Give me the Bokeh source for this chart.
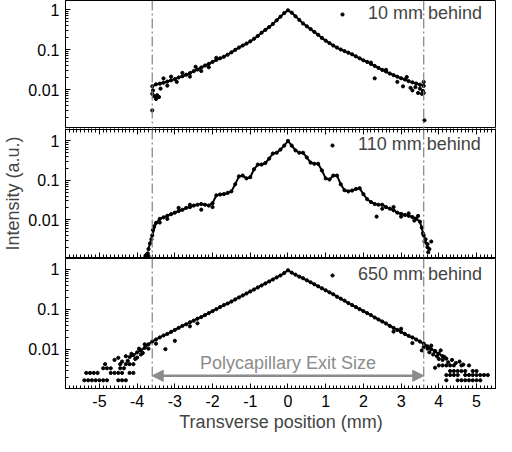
from bokeh.plotting import figure
from bokeh.layouts import column
from bokeh.models import (LinearAxis, LogAxis, SingleIntervalTicker, FixedTicker, Span, Arrow,
                          NormalHead, Label, Legend, LegendItem, Range1d)
from bokeh.embed import file_html
from bokeh.resources import INLINE

# ---------------- data ----------------
# 10 mm behind
x_10 = [-3.6, -3.5, -3.4, -3.3, -3.2, -3.1, -3.0, -2.9, -2.8, -2.7, -2.6, -2.5, -2.4, -2.3, -2.2, -2.1,
        -2.0, -1.9, -1.8, -1.7, -1.6, -1.5, -1.4, -1.3, -1.2, -1.1, -1.0, -0.9, -0.8, -0.7, -0.6, -0.5,
        -0.4, -0.3, -0.2, -0.1, 0.0, 0.1, 0.2, 0.3, 0.4, 0.5, 0.6, 0.7, 0.8, 0.9, 1.0, 1.1, 1.2, 1.3,
        1.4, 1.5, 1.6, 1.7, 1.8, 1.9, 2.0, 2.1, 2.2, 2.3, 2.4, 2.5, 2.6, 2.7, 2.8, 2.9, 3.0, 3.1, 3.2,
        3.3, 3.4, 3.5, 3.6]
i_10 = [0.0120, 0.0135, 0.0140, 0.0148, 0.0158, 0.0170, 0.0182, 0.0200, 0.0214, 0.0234, 0.0257, 0.0288,
        0.0316, 0.0355, 0.0398, 0.0437, 0.0490, 0.0550, 0.0603, 0.0661, 0.0741, 0.0851, 0.0977, 0.112,
        0.126, 0.141, 0.160, 0.186, 0.219, 0.263, 0.309, 0.363, 0.437, 0.537, 0.661, 0.813, 0.955,
        0.832, 0.676, 0.550, 0.447, 0.380, 0.324, 0.275, 0.234, 0.195, 0.166, 0.145, 0.126, 0.112, 0.100,
        0.0912, 0.0832, 0.0759, 0.0676, 0.0603, 0.0537, 0.0490, 0.0437, 0.0389, 0.0347, 0.0309, 0.0282,
        0.0251, 0.0229, 0.0209, 0.0191, 0.0178, 0.0162, 0.0151, 0.0141, 0.0132, 0.0123]
x_10_scatter = [-3.6, -3.6, -3.58, -3.55, -3.5, -3.47, -3.42, -3.38, -3.3, -3.2, -3.1, -2.95, -2.8, -2.6,
                -2.45, -2.3, -2.1, -1.9, 2.2, 2.3, 2.6, 2.9, 3.05, 3.15, 3.25, 3.3, 3.38, 3.45, 3.5, 3.55,
                3.58, 3.6, 3.6, 3.62]
i_10_scatter = [0.003, 0.0078, 0.0095, 0.0068, 0.0058, 0.0072, 0.0065, 0.0105, 0.019, 0.0125, 0.021,
                0.0155, 0.026, 0.021, 0.037, 0.029, 0.036, 0.062, 0.047, 0.019, 0.031, 0.0155, 0.012,
                0.0205, 0.011, 0.0095, 0.0115, 0.0082, 0.0105, 0.0078, 0.0092, 0.0082, 0.0155, 0.0017]

# 110 mm behind
x_110 = [-3.7, -3.6, -3.5, -3.4, -3.3, -3.2, -3.1, -3.0, -2.9, -2.8, -2.7, -2.6, -2.5, -2.4, -2.3, -2.2,
         -2.1, -2.0, -1.9, -1.8, -1.7, -1.6, -1.5, -1.4, -1.3, -1.2, -1.1, -1.0, -0.9, -0.8, -0.7, -0.6,
         -0.5, -0.4, -0.3, -0.2, -0.1, 0.0, 0.1, 0.2, 0.3, 0.4, 0.5, 0.6, 0.7, 0.8, 0.9, 1.0, 1.1, 1.2,
         1.3, 1.4, 1.5, 1.6, 1.7, 1.8, 1.9, 2.0, 2.1, 2.2, 2.3, 2.4, 2.5, 2.6, 2.7, 2.8, 2.9, 3.0, 3.1,
         3.2, 3.3, 3.4, 3.5, 3.6, 3.7]
i_110 = [0.0018, 0.0040, 0.0083, 0.0105, 0.0115, 0.0126, 0.0138, 0.0151, 0.0166, 0.0178, 0.0200, 0.0209,
         0.0229, 0.0240, 0.0251, 0.0240, 0.0229, 0.0263, 0.0417, 0.0437, 0.0447, 0.0479, 0.0525, 0.0794,
         0.126, 0.132, 0.112, 0.120, 0.191, 0.251, 0.251, 0.275, 0.355, 0.479, 0.501, 0.603, 0.759, 1.0,
         0.759, 0.575, 0.501, 0.501, 0.380, 0.282, 0.263, 0.263, 0.178, 0.112, 0.105, 0.132, 0.132,
         0.0794, 0.0562, 0.0525, 0.0550, 0.0603, 0.0631, 0.0447, 0.0331, 0.0282, 0.0251, 0.0240, 0.0240,
         0.0209, 0.0191, 0.0174, 0.0151, 0.0141, 0.0132, 0.0126, 0.0117, 0.0107, 0.0089, 0.0040, 0.0020]
x_110_scatter = [-3.78, -3.75, -3.72, -3.7, -3.66, -3.62, -3.58, -3.55, -3.4, -3.2, -2.9, -2.6, -2.3, -2.0,
                 2.35, 2.5, 2.8, 3.0, 3.2, 3.35, 3.45, 3.55, 3.58, 3.62, 3.65, 3.7, 3.72, 3.75, 3.8]
i_110_scatter = [0.0012, 0.0013, 0.0014, 0.0012, 0.0025, 0.0032, 0.0055, 0.0068, 0.0085, 0.0105, 0.020,
                 0.024, 0.018, 0.021, 0.012, 0.019, 0.021, 0.012, 0.0145, 0.0095, 0.0125, 0.0063, 0.0045,
                 0.0028, 0.0032, 0.0024, 0.0015, 0.0018, 0.0028]

# 650 mm behind
x_650 = [-4.2, -4.1, -4.0, -3.9, -3.8, -3.7, -3.6, -3.5, -3.4, -3.3, -3.2, -3.1, -3.0, -2.9, -2.8, -2.7,
         -2.6, -2.5, -2.4, -2.3, -2.2, -2.1, -2.0, -1.9, -1.8, -1.7, -1.6, -1.5, -1.4, -1.3, -1.2, -1.1,
         -1.0, -0.9, -0.8, -0.7, -0.6, -0.5, -0.4, -0.3, -0.2, -0.1, 0.0, 0.1, 0.2, 0.3, 0.4, 0.5, 0.6,
         0.7, 0.8, 0.9, 1.0, 1.1, 1.2, 1.3, 1.4, 1.5, 1.6, 1.7, 1.8, 1.9, 2.0, 2.1, 2.2, 2.3, 2.4, 2.5,
         2.6, 2.7, 2.8, 2.9, 3.0, 3.1, 3.2, 3.3, 3.4, 3.5, 3.6, 3.7, 3.8, 3.9, 4.0, 4.1, 4.2]
i_650 = [0.0065, 0.0072, 0.0085, 0.0095, 0.0110, 0.0135, 0.0158, 0.0178, 0.0200, 0.0224, 0.0245, 0.0275,
         0.0309, 0.0347, 0.0389, 0.0427, 0.0479, 0.0525, 0.0589, 0.0646, 0.0724, 0.0813, 0.0912, 0.102,
         0.115, 0.129, 0.141, 0.158, 0.178, 0.200, 0.224, 0.251, 0.282, 0.316, 0.355, 0.398, 0.447, 0.501,
         0.562, 0.631, 0.708, 0.813, 0.955, 0.832, 0.741, 0.661, 0.603, 0.537, 0.479, 0.427, 0.380, 0.339,
         0.302, 0.269, 0.240, 0.209, 0.186, 0.166, 0.145, 0.129, 0.115, 0.102, 0.0912, 0.0813, 0.0724,
         0.0631, 0.0562, 0.0501, 0.0447, 0.0389, 0.0347, 0.0309, 0.0275, 0.0245, 0.0219, 0.0200, 0.0178,
         0.0158, 0.0141, 0.0120, 0.0102, 0.0089, 0.0079, 0.0068, 0.0059]
x_650_scatter = [-5.4, -5.3, -5.2, -5.1, -5.0, -4.9, -4.8, -4.5, -4.4, -4.3,
                 -5.35, -5.25, -5.15, -5.05, -4.7, -4.6, -4.5, -4.4, -4.2, -4.1,
                 -4.9, -4.8, -4.7, -4.45, -4.35,
                 -4.85, -4.45, -4.3, -4.2, -4.1,
                 -4.6, -4.5, -4.4, -4.3, -4.25, -4.15, -4.05, -4.0, -3.95, -3.9, -3.85, -3.8, -3.7, -3.5,
                 -3.25, -3.0, -2.6, -2.4,
                 4.2, 4.5, 4.6, 4.7, 4.8, 4.9, 5.0, 5.1,
                 4.2, 4.3, 4.4, 4.5, 4.7, 4.8, 4.9, 5.0, 5.1, 5.2, 5.3,
                 4.3, 4.4, 4.5, 4.6, 4.7, 4.9, 5.0,
                 4.0, 4.1, 4.2, 4.3, 4.4, 4.6, 4.8,
                 3.55, 3.6, 3.7, 3.75, 3.8, 3.85, 3.9, 3.9, 3.95, 4.0, 4.05, 4.1, 4.15, 4.25, 4.35, 4.45,
                 4.55, 4.65, 3.3, 3.0, 2.8]
i_650_scatter = [0.0017, 0.0017, 0.0017, 0.0017, 0.0017, 0.0017, 0.0017, 0.0017, 0.0017, 0.0017,
                 0.0026, 0.0026, 0.0026, 0.0026, 0.0026, 0.0026, 0.0026, 0.0026, 0.0026, 0.0026,
                 0.0034, 0.0034, 0.0034, 0.0034, 0.0034,
                 0.0043, 0.0043, 0.0043, 0.0043, 0.0043,
                 0.0055, 0.0062, 0.0050, 0.0068, 0.0052, 0.0078, 0.0058, 0.0063, 0.0105, 0.0075, 0.0082,
                 0.0135, 0.0105, 0.0140, 0.0102, 0.0165, 0.038, 0.045,
                 0.0017, 0.0017, 0.0017, 0.0017, 0.0017, 0.0017, 0.0017, 0.0017,
                 0.0023, 0.0023, 0.0023, 0.0023, 0.0023, 0.0023, 0.0023, 0.0023, 0.0023, 0.0023, 0.0023,
                 0.0029, 0.0029, 0.0029, 0.0029, 0.0029, 0.0029, 0.0029,
                 0.0040, 0.0040, 0.0040, 0.0040, 0.0040, 0.0040, 0.0040,
                 0.0095, 0.0115, 0.0105, 0.0085, 0.0125, 0.0075, 0.0092, 0.0035, 0.0068, 0.0058, 0.0095,
                 0.0055, 0.0065, 0.0048, 0.0055, 0.0046, 0.0050, 0.0042, 0.0145, 0.033, 0.028]

series_labels = ["10 mm behind", "110 mm behind", "650 mm behind"]
x_ticks = [-5, -4, -3, -2, -1, 0, 1, 2, 3, 4, 5]
x_tick_labels = ["-5", "-4", "-3", "-2", "-1", "0", "1", "2", "3", "4", "5"]
y_ticks = [0.01, 0.1, 1]
y_tick_labels = ["0.01", "0.1", "1"]
exit_half_width = 3.6          # polycapillary exit half size (mm)
arrow_level = 0.0022           # intensity level of the arrow
arrow_text_level = 0.0047
arrow_text = "Polycapillary Exit Size"

# ---------------- styling ----------------
FONT = "Liberation Sans"
GRAY = "#8c8c8c"
X_RANGE = (-5.9, 5.53)
minor_y = [m * d for d in (0.001, 0.01, 0.1, 1) for m in range(2, 10)]


def line_props(ax):
    ax.axis_line_color = "black"
    ax.major_tick_line_color = "black"
    ax.minor_tick_line_color = "black"
    ax.major_tick_in = 5
    ax.major_tick_out = 0
    ax.minor_tick_in = 3
    ax.minor_tick_out = 0


def x_axis(labels, title=None):
    ax = LinearAxis(ticker=SingleIntervalTicker(interval=1, num_minor_ticks=10))
    line_props(ax)
    if labels:
        ax.major_label_overrides = dict(zip(x_ticks, x_tick_labels))
        ax.major_label_text_font = FONT
        ax.major_label_text_font_size = "16px"
        ax.major_label_text_color = "black"
        ax.major_label_standoff = 6
    else:
        # hidden labels, but keep a 1px panel so the side panel is never empty
        ax.major_label_text_font_size = "0px"
        ax.major_label_standoff = 0
        ax.major_tick_out = 1
        ax.minor_tick_out = 1
    if title:
        ax.axis_label = title
        ax.axis_label_text_font = FONT
        ax.axis_label_text_font_size = "18px"
        ax.axis_label_text_font_style = "normal"
        ax.axis_label_standoff = 2
    return ax


def y_axis(title=None):
    ax = LogAxis(ticker=FixedTicker(ticks=y_ticks, minor_ticks=minor_y))
    line_props(ax)
    ax.major_label_overrides = dict(zip(y_ticks, y_tick_labels))
    ax.major_label_text_font = FONT
    ax.major_label_text_font_size = "16px"
    ax.major_label_text_color = "black"
    ax.major_label_standoff = 6
    if title:
        ax.axis_label = title
        ax.axis_label_text_font = FONT
        ax.axis_label_text_font_size = "18px"
        ax.axis_label_text_font_style = "normal"
        ax.axis_label_standoff = 2
    return ax


def make_panel(xs, ys, xs_sc, ys_sc, yr, h, label, legend_xy, edges, bottom=False, ylabel=None):
    p = figure(width=496, height=h, x_range=Range1d(*X_RANGE), y_range=Range1d(*yr),
               y_axis_type="log", x_axis_location=None, y_axis_location=None,
               output_backend="svg", toolbar_location=None,
               min_border_left=64, min_border_right=0, min_border_top=0,
               min_border_bottom=48 if bottom else 0)
    p.outline_line_color = "black"
    p.xgrid.visible = False
    p.ygrid.visible = False

    if bottom:
        p.add_layout(x_axis(True, "Transverse position (mm)"), "below")
    if edges:
        p.add_layout(x_axis(False), "above")
        if not bottom:
            p.add_layout(x_axis(False), "below")
    p.add_layout(y_axis(ylabel), "left")

    for loc in (-exit_half_width, exit_half_width):
        p.add_layout(Span(location=loc, dimension="height", line_color="#808080",
                          line_width=1.2, line_dash="10 3 2 3"))

    p.line(xs, ys, line_color="black", line_width=2)
    r = p.scatter(xs + xs_sc, ys + ys_sc, size=3.2, color="black")

    leg = Legend(items=[LegendItem(label=label, renderers=[r])], location=legend_xy,
                 padding=0, margin=0, spacing=0, glyph_width=8, glyph_height=8,
                 label_standoff=22, label_height=18, label_text_font=FONT,
                 label_text_font_size="18px", background_fill_alpha=0, border_line_alpha=0)
    p.add_layout(leg)
    return p


p1 = make_panel(x_10, i_10, x_10_scatter, i_10_scatter, (0.00106, 1.68), 128,
                series_labels[0], (273, 104), edges=False)
p2 = make_panel(x_110, i_110, x_110_scatter, i_110_scatter, (0.0011, 1.95), 130,
                series_labels[1], (263, 102), edges=True, ylabel="Intensity (a.u.)")
p3 = make_panel(x_650, i_650, x_650_scatter, i_650_scatter, (0.00106, 1.88), 178,
                series_labels[2], (263, 103), edges=False, bottom=True)

head = dict(size=11, fill_color=GRAY, line_color=GRAY)
p3.add_layout(Arrow(start=NormalHead(**head), end=NormalHead(**head),
                    x_start=-exit_half_width, y_start=arrow_level,
                    x_end=exit_half_width, y_end=arrow_level,
                    line_color=GRAY, line_width=2.5))
p3.add_layout(Label(x=0, y=arrow_text_level, text=arrow_text, text_align="center",
                    text_baseline="middle", text_color=GRAY, text_font=FONT,
                    text_font_size="18px"))

layout = column(p1, p2, p3, spacing=0)
open("out.html", "w").write(file_html(layout, INLINE))
